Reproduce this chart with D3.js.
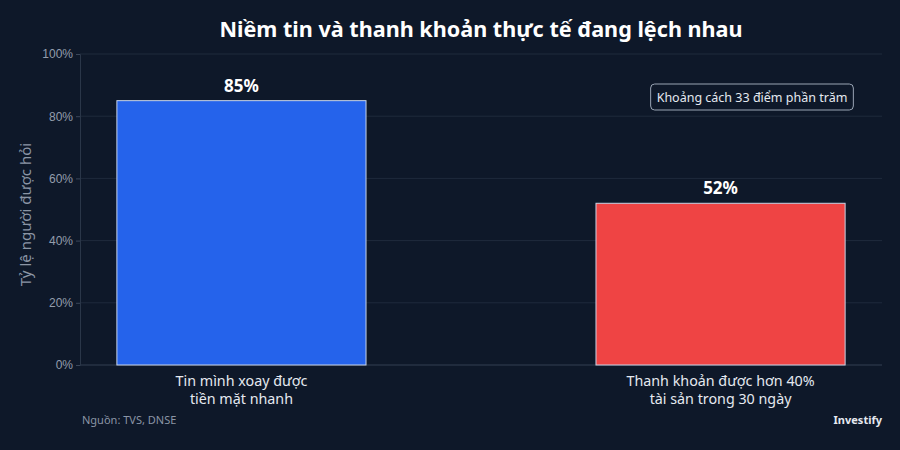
<!DOCTYPE html>
<html>
<head>
<meta charset="utf-8">
<script src="https://cdn.jsdelivr.net/npm/d3@7"></script>
<style>
  body { margin: 0; background: #0e1829; }
  svg { display: block; font-family: "Noto Sans", sans-serif; }
</style>
</head>
<body>
<svg width="900" height="450"></svg>
<script>
const categories = ["Tin mình xoay được\ntiền mặt nhanh", "Thanh khoản được hơn 40%\ntài sản trong 30 ngày"];
const values = [85, 52];
const colors = ["#2563eb", "#ef4444"];
const yTicks = [0, 20, 40, 60, 80, 100];

const svg = d3.select("svg");
const width = +svg.attr("width");
const height = +svg.attr("height");
const margin = { top: 54, right: 18, bottom: 85, left: 80 };

svg.append("rect").attr("width", width).attr("height", height).attr("fill", "#0e1829");

const x = d3.scaleBand()
  .domain(categories)
  .range([margin.left, width - margin.right])
  .paddingInner(0.48)
  .paddingOuter(0.077);

const y = d3.scaleLinear()
  .domain([0, 100])
  .range([height - margin.bottom, margin.top]);

// grid
svg.append("g")
  .selectAll("line")
  .data(yTicks)
  .join("line")
  .attr("x1", margin.left)
  .attr("x2", width - margin.right)
  .attr("y1", d => y(d))
  .attr("y2", d => y(d))
  .attr("stroke", "#1f2a3c")
  .attr("stroke-width", 1);

// y axis
const yAxis = svg.append("g")
  .attr("transform", `translate(${margin.left},0)`)
  .call(d3.axisLeft(y).tickValues(yTicks).tickFormat(d => d + "%").tickSize(4).tickPadding(3));
yAxis.select(".domain").attr("stroke", "#2a3648");
yAxis.selectAll(".tick line").attr("stroke", "#3a4659");
yAxis.selectAll(".tick text").attr("fill", "#939dac").attr("font-size", 12);

// x axis line
svg.append("line")
  .attr("x1", margin.left)
  .attr("x2", width - margin.right)
  .attr("y1", y(0))
  .attr("y2", y(0))
  .attr("stroke", "#2a3648");

// bars
svg.append("g")
  .selectAll("rect")
  .data(categories)
  .join("rect")
  .attr("x", d => x(d))
  .attr("y", (d, i) => y(values[i]))
  .attr("width", x.bandwidth())
  .attr("height", (d, i) => y(0) - y(values[i]))
  .attr("fill", (d, i) => colors[i])
  .attr("stroke", "#c9d4e6")
  .attr("stroke-width", 1);

// value labels
svg.append("g")
  .selectAll("text")
  .data(categories)
  .join("text")
  .attr("x", d => x(d) + x.bandwidth() / 2)
  .attr("y", (d, i) => y(values[i]) - 9)
  .attr("text-anchor", "middle")
  .attr("fill", "#ffffff")
  .attr("font-size", 17)
  .attr("font-weight", "bold")
  .text((d, i) => values[i] + "%");

// category labels, one text per line
const catGroups = svg.append("g")
  .selectAll("g")
  .data(categories)
  .join("g")
  .attr("transform", d => `translate(${x(d) + x.bandwidth() / 2},${y(0) + 21})`);
catGroups.selectAll("text")
  .data(d => d.split("\n"))
  .join("text")
  .attr("y", (d, i) => i * 18)
  .attr("text-anchor", "middle")
  .attr("fill", "#e5e9f0")
  .attr("font-size", 14.3)
  .text(d => d);

// y label
svg.append("text")
  .attr("transform", `translate(31,${(y(0) + y(100)) / 2 + 5}) rotate(-90)`)
  .attr("text-anchor", "middle")
  .attr("fill", "#8b95a5")
  .attr("font-size", 15)
  .text("Tỷ lệ người được hỏi");

// title, centred over plot area
svg.append("text")
  .attr("x", (margin.left + width - margin.right) / 2)
  .attr("y", 37)
  .attr("text-anchor", "middle")
  .attr("fill", "#ffffff")
  .attr("font-size", 21.6)
  .attr("font-weight", "bold")
  .text("Niềm tin và thanh khoản thực tế đang lệch nhau");

// annotation
const note = svg.append("g");
const noteText = note.append("text")
  .attr("x", 752)
  .attr("y", 102)
  .attr("text-anchor", "middle")
  .attr("fill", "#e5e9f0")
  .attr("font-size", 12.5)
  .text("Khoảng cách " + (values[0] - values[1]) + " điểm phần trăm");
const bb = noteText.node().getBBox();
note.insert("rect", "text")
  .attr("x", bb.x - 6)
  .attr("y", 84)
  .attr("width", bb.width + 12)
  .attr("height", 26)
  .attr("rx", 4)
  .attr("fill", "#0e1829")
  .attr("stroke", "#9aa5b5")
  .attr("stroke-width", 1);

// footer
svg.append("text")
  .attr("x", 82)
  .attr("y", 424)
  .attr("fill", "#8b95a5")
  .attr("font-size", 11)
  .text("Nguồn: TVS, DNSE");
svg.append("text")
  .attr("x", width - margin.right)
  .attr("y", 424)
  .attr("text-anchor", "end")
  .attr("fill", "#e5e9f0")
  .attr("font-size", 11)
  .attr("font-weight", "bold")
  .text("Investify");
</script>
</body>
</html>
